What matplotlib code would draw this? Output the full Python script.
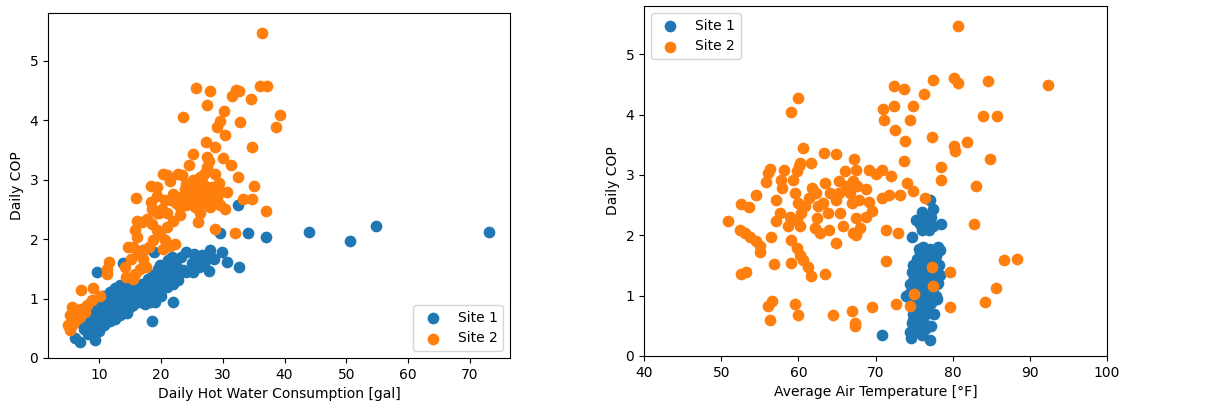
import matplotlib
matplotlib.use("Agg")
import matplotlib.pyplot as plt

# ---------------- Left panel: COP vs hot water consumption ----------------
s1_gal = [73.1, 54.8, 50.6, 43.9, 37.0, 34.1, 29.5, 32.4, 32.7, 30.6, 29.9, 28.0, 28.5, 27.8,
          26.6, 25.3, 24.1, 23.3, 25.1, 26.1, 26.9, 23.5, 22.8, 22.0, 21.7, 21.2, 22.0, 18.6,
          9.6, 13.8, 17.0, 18.8,
          6.1, 6.8, 9.3, 8.2, 8.7, 9.6, 10.4, 11.2, 12.3, 13.1, 14.2, 15.0, 16.0, 16.9, 17.7,
          18.5, 19.3, 20.1, 20.9, 20.6, 19.8, 19.0, 18.2, 17.4, 16.6, 15.5, 14.4, 13.4, 12.6,
          11.7, 10.7, 9.9, 8.5, 8.0, 8.8, 9.9, 10.6, 11.7, 12.5, 13.3, 14.4, 15.2, 16.0, 16.9,
          17.9, 18.7, 19.6, 20.9, 18.5, 17.7, 13.9, 12.9, 11.7, 10.9, 10.1, 9.5, 7.6, 8.9, 7.0,
          20.9, 21.7, 22.5, 19.8,
          14.0, 15.0, 17.0, 19.0, 20.0, 21.0, 22.0, 23.0, 24.0, 25.0, 26.0, 27.0, 28.0, 12.0,
          11.0, 10.0, 9.0, 8.0, 13.0, 16.0, 18.0, 19.5, 21.0, 22.5, 16.5, 14.5, 12.5]
s1_cop_l = [2.12, 2.22, 1.97, 2.12, 2.04, 2.10, 2.10, 2.58, 1.53, 1.61, 1.78, 1.82, 1.67, 1.47,
            1.73, 1.75, 1.78, 1.70, 1.45, 1.53, 1.56, 1.48, 1.31, 1.25, 1.70, 1.64, 0.94, 0.62,
            1.45, 1.59, 1.82, 1.78,
            0.34, 0.27, 0.30, 0.41, 0.49, 0.58, 0.66, 0.75, 0.80, 0.86, 0.94, 1.00, 1.03, 1.08, 1.14,
            1.19, 1.25, 1.31, 1.36, 1.19, 1.10, 1.03, 0.94, 0.91, 0.94, 0.89, 0.80, 0.72, 0.66,
            0.63, 0.55, 0.46, 0.63, 0.75, 0.86, 0.94, 1.05, 1.11, 1.17, 1.22, 1.19, 1.14, 1.19, 1.25,
            1.33, 1.39, 1.45, 1.47, 1.14, 1.05, 1.08, 1.03, 0.97, 0.89, 0.80, 0.72, 0.49, 0.41, 0.60,
            1.59, 1.45, 1.42, 1.56,
            1.10, 0.85, 0.95, 0.95, 1.05, 1.20, 1.35, 1.45, 1.45, 1.60, 1.70, 1.60, 1.70, 0.90,
            0.85, 0.65, 0.55, 0.45, 1.15, 1.20, 1.30, 1.50, 1.60, 1.55, 1.00, 0.75, 0.70]

s2_gal = [36.4, 25.6, 28.0, 27.5, 23.5, 31.5, 32.1, 32.7, 34.5, 36.1, 37.2, 30.2, 29.5, 29.1,
          32.8, 30.4, 38.6, 39.2, 27.2, 28.8, 34.8, 25.2, 27.5, 30.1, 31.4, 24.5, 32.5, 35.0,
          29.4, 30.6, 33.2, 34.8, 30.4, 37.0, 28.7, 32.0,
          15.9, 18.3, 18.3, 19.3, 20.3, 20.9, 22.8, 23.4, 24.1, 21.5, 19.3, 20.7,
          25.2, 26.3, 26.9, 27.4, 27.8, 25.7, 26.6, 27.1, 27.6, 24.1, 23.3, 24.7, 25.5, 26.3,
          26.0, 24.1, 23.1, 22.5, 28.5, 29.0, 28.2, 28.7, 27.9, 26.8, 25.7, 24.9, 23.9, 27.4,
          26.6, 29.5, 29.7, 23.1, 22.0, 20.9, 19.7, 20.9, 19.8, 20.6, 21.4, 22.2, 20.3, 19.3,
          18.5, 17.7, 16.9, 16.1, 15.8, 16.1, 15.5, 14.7, 15.2, 16.3, 17.1, 17.6, 16.6, 15.8,
          15.5, 14.4, 14.2, 17.3, 18.1, 18.7, 19.3, 20.1, 18.5, 22.0, 21.6,
          11.5, 11.3, 11.2, 7.1, 9.0, 10.1, 8.8, 8.0, 7.1, 6.3, 5.5, 5.2, 6.0, 6.9, 7.7, 4.9,
          5.2, 5.8, 6.6]
s2_cop_l = [5.46, 4.54, 4.49, 4.26, 4.05, 4.40, 4.51, 4.49, 4.35, 4.58, 4.58, 4.15, 3.98, 3.89,
            3.97, 3.75, 3.89, 4.08, 3.63, 3.55, 3.55, 3.43, 3.38, 3.37, 3.24, 3.24, 3.04, 2.89,
            2.94, 2.79, 2.67, 2.67, 2.51, 2.47, 2.17, 2.11,
            2.69, 2.62, 2.90, 2.87, 3.09, 3.07, 3.09, 3.07, 2.93, 2.98, 2.73, 2.65,
            2.99, 3.04, 3.10, 3.21, 3.32, 2.87, 2.79, 2.71, 2.62, 2.76, 2.71, 2.65, 2.54, 2.43,
            2.29, 2.57, 2.54, 2.60, 2.76, 2.65, 2.87, 3.10, 2.54, 2.60, 2.71, 2.79, 2.85, 2.87,
            2.96, 2.57, 2.79, 2.40, 2.31, 2.43, 2.43, 2.20, 2.09, 1.98, 1.89, 1.92, 1.84, 2.16,
            2.26, 2.34, 2.29, 2.31, 2.15, 2.03, 1.87, 1.87, 1.67, 1.75, 1.67, 1.53, 1.50, 1.42,
            1.33, 1.36, 1.53, 1.81, 1.87, 1.98, 2.43, 2.51, 2.51, 2.76, 2.65,
            1.61, 1.50, 1.42, 1.14, 1.17, 1.05, 0.97, 0.89, 0.83, 0.80, 0.86, 0.72, 0.63, 0.69, 0.77, 0.55,
            0.47, 0.58, 0.75]

# ---------------- Right panel: COP vs average air temperature ----------------
s1_temp = [70.8, 77.0, 74.6, 74.4, 73.9, 77.0, 77.4, 76.0, 75.3, 75.7, 74.7, 76.9, 78.5, 78.1, 78.1,
           75.0, 75.3, 75.8, 76.2, 75.5, 74.8, 76.0, 76.6, 75.2, 75.7, 76.3, 77.0, 74.9, 75.5, 76.1,
           76.8, 75.1, 75.8, 76.5, 77.2, 75.4, 76.0, 76.7, 77.4, 75.2, 75.9, 76.4, 77.1, 75.6, 76.2,
           76.9, 77.6, 75.4, 76.0, 76.6, 77.3, 75.8, 76.4, 77.0, 77.7, 76.2, 75.6, 76.8, 77.5, 76.3,
           75.7, 77.0, 76.5, 75.9, 76.8, 75.4, 76.9, 77.2, 75.6, 76.4, 75.2, 74.7, 76.0, 75.0, 77.8,
           78.0, 77.4, 76.6, 77.5, 76.0, 76.3, 77.2,
           74.5, 74.8, 78.2, 78.0, 77.9, 78.3, 74.6, 74.9, 77.6, 77.2, 74.4, 78.4, 74.7, 77.8]
s1_cop_r = [0.35, 0.27, 0.29, 0.39, 1.00, 2.59, 2.43, 2.38, 2.25, 2.19, 1.98, 2.09, 2.19, 1.80, 1.21,
            0.45, 0.55, 0.50, 0.58, 0.65, 0.70, 0.72, 0.78, 0.82, 0.88, 0.92, 0.95, 0.96, 1.02, 1.06,
            1.08, 1.12, 1.16, 1.18, 1.20, 1.24, 1.28, 1.30, 1.32, 1.36, 1.40, 1.42, 1.45, 1.50, 1.52,
            1.55, 1.57, 1.60, 1.63, 1.66, 1.68, 1.72, 1.75, 1.77, 1.72, 1.80, 1.78, 1.62, 1.48, 1.35,
            1.25, 1.10, 1.00, 0.95, 0.85, 0.90, 0.72, 0.88, 0.40, 0.45, 0.60, 0.55, 0.35, 1.30, 1.65,
            1.78, 1.05, 2.22, 2.15, 2.08, 2.30, 2.30,
            1.20, 1.50, 1.50, 1.20, 0.95, 1.35, 0.90, 0.60, 0.70, 0.50, 1.05, 1.75, 1.40, 1.00]

s2_temp = [80.7, 92.4, 80.2, 80.7, 84.6, 77.4, 76.3, 72.4, 73.7, 72.4, 74.8, 70.9, 71.1, 74.5, 72.5,
           59.9, 59.0, 83.9, 85.8, 77.3, 73.8, 81.9, 80.2, 80.3, 73.7, 84.8, 78.5, 78.5, 83.0, 82.7,
           76.4, 74.9, 74.1, 73.2, 71.8, 70.8, 72.0, 70.8, 70.1, 69.2, 71.3, 72.9, 71.4, 79.7, 86.7,
           88.3, 85.6, 84.2, 79.6, 77.3, 77.4, 75.0, 74.5, 72.6, 69.6, 66.9, 67.3, 67.3, 64.5, 59.9,
           59.6, 56.6, 56.1, 56.3, 52.5, 53.2, 56.8, 59.0, 63.4, 61.6, 61.2, 60.6, 64.9, 56.4, 50.9,
           52.4, 53.1, 53.7, 54.5, 55.0, 55.0, 52.6, 53.6, 54.5, 55.8, 56.0, 56.3, 58.1, 57.7, 57.9,
           57.1, 57.6, 57.1, 58.9, 58.6, 59.1, 59.8, 60.2, 59.3, 59.8, 60.2, 60.6, 60.1, 59.5, 59.9,
           60.4, 60.2, 59.8, 60.8, 61.4, 61.6, 61.7, 62.3, 62.6, 62.4, 62.2, 63.3, 64.9, 63.4, 64.1,
           63.2, 63.9, 62.8, 64.0, 64.9, 65.3, 65.2, 65.4, 65.8, 66.1, 66.7, 66.9, 67.1, 67.5, 67.2,
           67.5, 67.1, 67.6, 67.8, 67.5, 68.0, 68.8, 69.1, 69.5, 68.8, 66.2, 66.7]
s2_cop_r = [5.47, 4.49, 4.61, 4.53, 4.56, 4.58, 4.35, 4.48, 4.42, 4.14, 4.14, 4.09, 3.91, 3.91, 3.75,
            4.27, 4.05, 3.97, 3.97, 3.63, 3.56, 3.54, 3.48, 3.39, 3.23, 3.26, 3.14, 2.92, 2.82, 2.19,
            2.62, 2.73, 2.87, 2.66, 2.66, 2.62, 2.99, 3.08, 3.01, 3.09, 2.09, 2.04, 1.57, 1.40, 1.59,
            1.61, 1.12, 0.89, 0.82, 1.47, 1.16, 1.03, 0.83, 0.86, 0.81, 0.74, 0.54, 0.49, 0.68, 0.68,
            0.86, 0.91, 0.83, 0.59, 1.36, 1.40, 1.52, 1.54, 1.36, 1.32, 1.48, 1.59, 1.88, 1.97, 2.23,
            2.09, 2.04, 1.98, 1.90, 1.82, 1.73, 2.52, 2.47, 2.67, 2.88, 3.03, 3.10, 3.09, 2.92, 2.79,
            2.59, 2.37, 2.23, 2.31, 2.15, 1.93, 1.79, 1.68, 2.92, 3.06, 3.20, 3.45, 3.15, 2.70, 2.54,
            2.37, 2.15, 2.26, 2.48, 2.62, 3.20, 2.79, 2.70, 2.48, 2.29, 2.12, 3.37, 3.35, 2.87, 2.70,
            2.54, 2.37, 2.04, 2.09, 2.59, 2.90, 2.70, 2.37, 2.16, 3.06, 2.81, 2.54, 2.04, 2.01, 3.26,
            3.09, 2.90, 2.81, 2.59, 2.29, 2.12, 2.76, 2.56, 2.40, 2.31, 2.81, 2.70]

labels = ["Site 1", "Site 2"]

plt.rcParams['font.family'] = ['DejaVu Sans']
plt.rcParams['font.size'] = 10

fig = plt.figure(figsize=(12.07, 4.09), dpi=100)
ax1 = fig.add_axes([0.0398, 0.1247, 0.3827, 0.8433])
ax2 = fig.add_axes([0.5336, 0.1296, 0.3836, 0.8557])

S = 55
ax1.scatter(s1_gal, s1_cop_l, s=S, color='#1f77b4', label=labels[0])
ax1.scatter(s2_gal, s2_cop_l, s=S, color='#ff7f0e', label=labels[1])
ax1.set_xlabel("Daily Hot Water Consumption [gal]")
ax1.set_ylabel("Daily COP")
ax1.set_ylim(0, 5.8)
ax1.set_xlim(1.7, 76.5)
ax1.set_xticks([10, 20, 30, 40, 50, 60, 70])
ax1.legend(loc='lower right')

ax2.scatter(s1_temp, s1_cop_r, s=S, color='#1f77b4', label=labels[0])
ax2.scatter(s2_temp, s2_cop_r, s=S, color='#ff7f0e', label=labels[1])
ax2.set_xlabel("Average Air Temperature [°F]")
ax2.set_ylabel("Daily COP")
ax2.set_xlim(40, 100)
ax2.set_ylim(0, 5.8)
ax2.legend(loc='upper left')

fig.savefig("out.png", dpi=100)
